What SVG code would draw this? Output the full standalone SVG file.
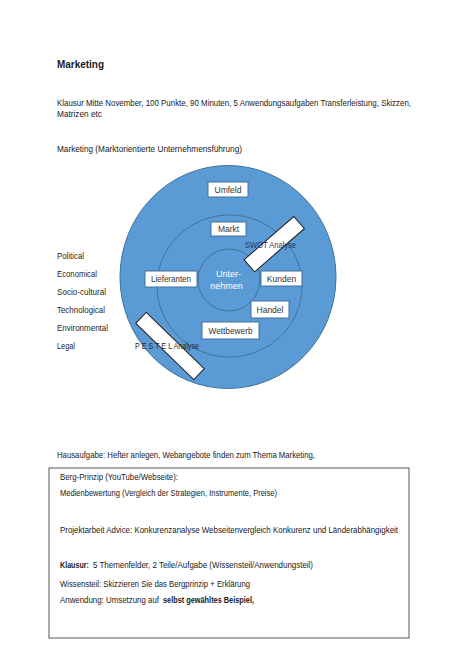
<svg xmlns="http://www.w3.org/2000/svg" width="474" height="670" viewBox="0 0 474 670">
<style>
text{font-family:"Liberation Sans",Arial,sans-serif;fill:#1a1a1a;}
.b{font-size:9px;}
.bb{font-size:9px;font-weight:bold;}
.lst{font-size:9px;fill:#262626;}
.lbl{font-size:8.5px;fill:#333;text-anchor:middle;}
.box{fill:#fff;stroke:#41719C;stroke-width:1;}
.ring{fill:#5B9BD5;stroke:#41719C;stroke-width:1;}
.tag{fill:#fff;stroke:#1a1a1a;stroke-width:1;}
</style>
<rect width="474" height="670" fill="#fff"/>
<text x="57" y="67.5" style="font-size:11px;font-weight:bold" textLength="47" lengthAdjust="spacingAndGlyphs">Marketing</text>
<text class="b" x="57" y="105.5" textLength="354" lengthAdjust="spacingAndGlyphs">Klausur Mitte November, 100 Punkte, 90 Minuten, 5 Anwendungsaufgaben Transferleistung, Skizzen,</text>
<text class="b" x="57" y="116.5" textLength="45" lengthAdjust="spacingAndGlyphs">Matrizen etc</text>
<text class="b" x="57" y="152" textLength="185" lengthAdjust="spacingAndGlyphs">Marketing (Marktorientierte Unternehmensführung)</text>

<g id="list">
<text class="lst" x="57" y="259" textLength="27" lengthAdjust="spacingAndGlyphs">Political</text>
<text class="lst" x="57" y="277" textLength="40" lengthAdjust="spacingAndGlyphs">Economical</text>
<text class="lst" x="57" y="295" textLength="49" lengthAdjust="spacingAndGlyphs">Socio-cultural</text>
<text class="lst" x="57" y="313" textLength="48" lengthAdjust="spacingAndGlyphs">Technological</text>
<text class="lst" x="57" y="331" textLength="51" lengthAdjust="spacingAndGlyphs">Environmental</text>
<text class="lst" x="57" y="349" textLength="18" lengthAdjust="spacingAndGlyphs">Legal</text>
</g>

<g id="outer"><ellipse class="ring" cx="228" cy="277" rx="108" ry="111.5"/></g>
<g id="middle"><ellipse class="ring" cx="229.5" cy="286" rx="72.5" ry="71"/></g>
<g id="inner"><circle class="ring" cx="229" cy="280" r="31"/>
<text x="228.5" y="276.5" style="font-size:9px;fill:#fff;text-anchor:middle">Unter-</text>
<text x="226.5" y="289" style="font-size:9px;fill:#fff;text-anchor:middle">nehmen</text></g>

<g id="umfeld"><rect class="box" x="208" y="182" width="40" height="15"/><text class="lbl" x="228" y="192.5">Umfeld</text></g>
<g id="markt"><rect class="box" x="211" y="222" width="35" height="14"/><text class="lbl" x="228.5" y="232">Markt</text></g>
<g id="lieferanten"><rect class="box" x="145" y="271" width="52" height="16"/><text class="lbl" x="171" y="282" textLength="40" lengthAdjust="spacingAndGlyphs">Lieferanten</text></g>
<g id="kunden"><rect class="box" x="261" y="271" width="41" height="15"/><text class="lbl" x="281.5" y="281.5">Kunden</text></g>
<g id="handel"><rect class="box" x="251" y="301" width="38" height="17"/><text class="lbl" x="270" y="312.5">Handel</text></g>
<g id="wettbewerb"><rect class="box" x="202" y="322" width="57" height="17"/><text class="lbl" x="230.5" y="333.5" textLength="44" lengthAdjust="spacingAndGlyphs">Wettbewerb</text></g>

<g id="swot"><rect class="tag" x="-33" y="-8" width="66" height="16" transform="translate(274.2 244.2) rotate(-41)"/>
<text x="245" y="247.5" style="font-size:9px;fill:#1F3864" textLength="51" lengthAdjust="spacingAndGlyphs">SWOT Analyse</text></g>
<g id="pestel"><rect class="tag" x="-40.5" y="-7.5" width="81" height="15" transform="translate(170 346) rotate(44.2)"/>
<text x="135" y="349" style="font-size:9px;fill:#262626" textLength="64" lengthAdjust="spacingAndGlyphs">P E S T E L Analyse</text></g>

<text class="b" x="57" y="458" textLength="258" lengthAdjust="spacingAndGlyphs">Hausaufgabe: Hefter anlegen, Webangebote finden zum Thema Marketing,</text>
<g id="notes">
<rect x="49" y="468" width="360" height="170" fill="#fff" stroke="#595959" stroke-width="1"/>
<text class="b" x="60" y="480" textLength="118" lengthAdjust="spacingAndGlyphs">Berg-Prinzip (YouTube/Webseite):</text>
<text class="b" x="60" y="495.5" textLength="217" lengthAdjust="spacingAndGlyphs">Medienbewertung (Vergleich der Strategien, Instrumente, Preise)</text>
<text class="b" x="60" y="532.5" textLength="338" lengthAdjust="spacingAndGlyphs">Projektarbeit Advice: Konkurenzanalyse Webseitenvergleich Konkurenz und Länderabhängigkeit</text>
<text class="bb" x="60" y="567.5" textLength="29" lengthAdjust="spacingAndGlyphs">Klausur:</text>
<text class="b" x="93" y="567.5" textLength="220" lengthAdjust="spacingAndGlyphs">5 Themenfelder, 2 Teile/Aufgabe (Wissensteil/Anwendungsteil)</text>
<text class="b" x="60" y="586.5" textLength="190" lengthAdjust="spacingAndGlyphs">Wissensteil: Skizzieren Sie das Bergprinzip + Erklärung</text>
<text class="b" x="60" y="603" textLength="99" lengthAdjust="spacingAndGlyphs">Anwendung: Umsetzung auf</text>
<text class="bb" x="163" y="603" textLength="91" lengthAdjust="spacingAndGlyphs">selbst gewähltes Beispiel,</text>
</g>
</svg>
